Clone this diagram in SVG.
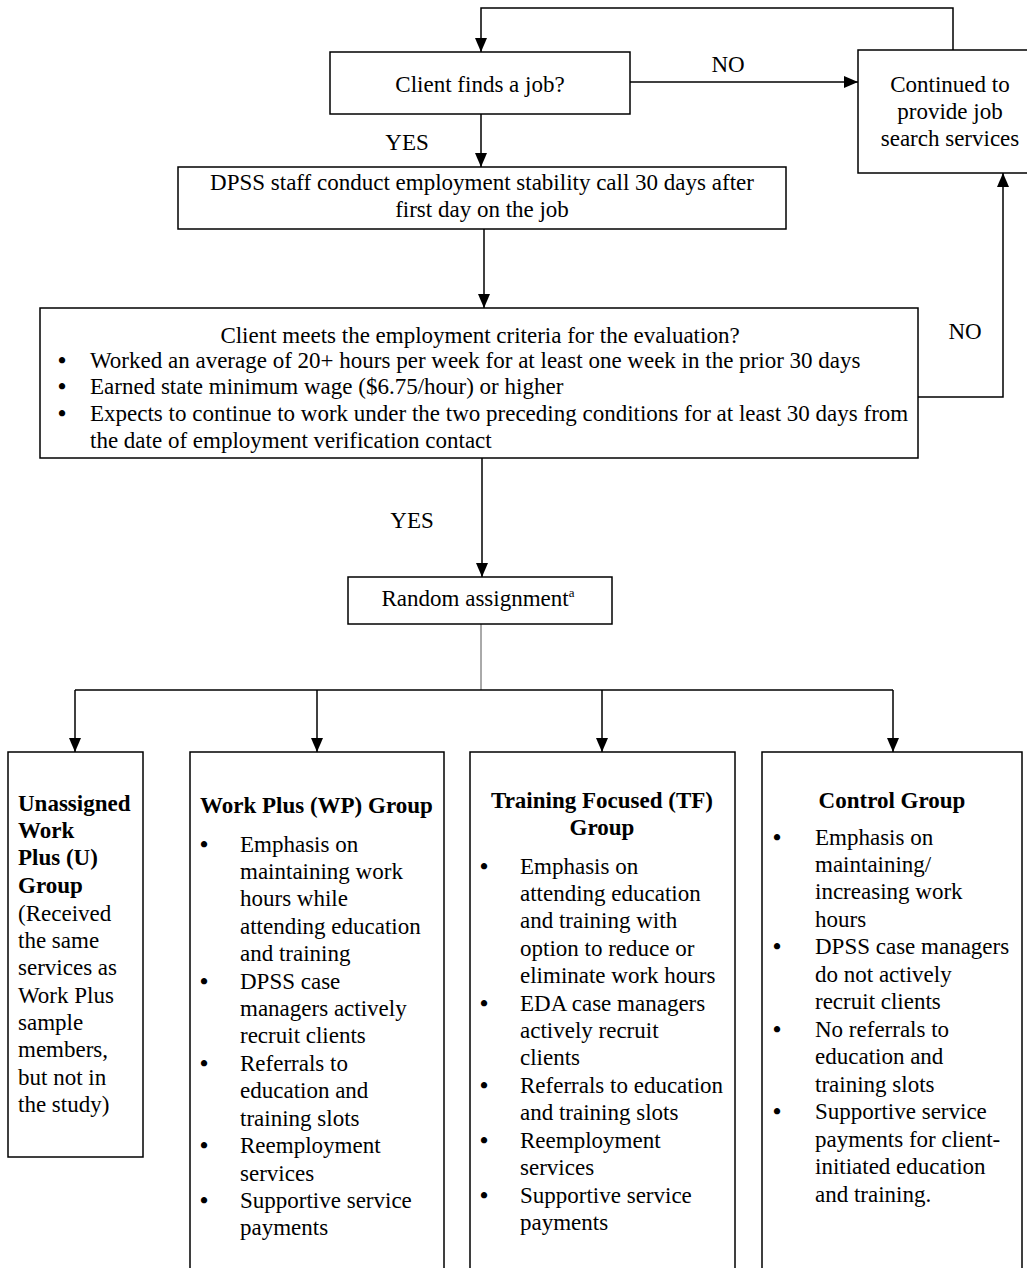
<svg xmlns="http://www.w3.org/2000/svg" width="1027" height="1268" viewBox="0 0 1027 1268">
<style>
  .box{fill:#fff;stroke:#000;stroke-width:1.5}
  .ln{fill:none;stroke:#000;stroke-width:1.5}
  .thin{fill:none;stroke:#555;stroke-width:1}
  text{font-family:"Liberation Serif","Times New Roman",serif;fill:#000;font-size:23px}
  .b{font-weight:bold}
  .c{text-anchor:middle}
  .bu{text-anchor:middle;font-weight:bold}
</style>
<defs>
  <marker id="ah" viewBox="0 0 14 12" refX="14" refY="6" markerWidth="14" markerHeight="12" markerUnits="userSpaceOnUse" orient="auto">
    <path d="M0,0 L14,6 L0,12 z" fill="#000"/>
  </marker>
</defs>

<g id="connectors">
  <polyline class="ln" points="953,50 953,8 481,8 481,52" marker-end="url(#ah)"/>
  <line class="ln" x1="630" y1="82" x2="858" y2="82" marker-end="url(#ah)"/>
  <line class="ln" x1="481" y1="114" x2="481" y2="167" marker-end="url(#ah)"/>
  <line class="ln" x1="484" y1="229" x2="484" y2="308" marker-end="url(#ah)"/>
  <polyline class="ln" points="918,397 1003,397 1003,173" marker-end="url(#ah)"/>
  <line class="ln" x1="482" y1="458" x2="482" y2="577" marker-end="url(#ah)"/>
  <line class="thin" x1="481" y1="624" x2="481" y2="690"/>
  <line class="ln" x1="75" y1="690" x2="893" y2="690"/>
  <line class="ln" x1="75" y1="690" x2="75" y2="752" marker-end="url(#ah)"/>
  <line class="ln" x1="317" y1="690" x2="317" y2="752" marker-end="url(#ah)"/>
  <line class="ln" x1="602" y1="690" x2="602" y2="752" marker-end="url(#ah)"/>
  <line class="ln" x1="893" y1="690" x2="893" y2="752" marker-end="url(#ah)"/>
  <text class="c" x="728" y="72">NO</text>
  <text class="c" x="407" y="150">YES</text>
  <text class="c" x="965" y="339">NO</text>
  <text class="c" x="412" y="528">YES</text>
</g>

<g id="find-job">
  <rect class="box" x="330" y="52" width="300" height="62"/>
  <text class="c" x="480" y="92">Client finds a job?</text>
</g>

<g id="continued">
  <rect class="box" x="858" y="50" width="172" height="123"/>
  <text class="c" x="950" y="92">Continued to</text>
  <text class="c" x="950" y="119">provide job</text>
  <text class="c" x="950" y="146">search services</text>
</g>

<g id="dpss-call">
  <rect class="box" x="178" y="167" width="608" height="62"/>
  <text class="c" x="482" y="190">DPSS staff conduct employment stability call 30 days after</text>
  <text class="c" x="482" y="217">first day on the job</text>
</g>

<g id="criteria">
  <rect class="box" x="40" y="308" width="878" height="150"/>
  <text class="c" x="480" y="343">Client meets the employment criteria for the evaluation?</text>
  <text class="bu" x="62" y="368">•</text>
  <text x="90" y="368">Worked an average of 20+ hours per week for at least one week in the prior 30 days</text>
  <text class="bu" x="62" y="394">•</text>
  <text x="90" y="394">Earned state minimum wage ($6.75/hour) or higher</text>
  <text class="bu" x="62" y="421">•</text>
  <text x="90" y="421">Expects to continue to work under the two preceding conditions for at least 30 days from</text>
  <text x="90" y="448">the date of employment verification contact</text>
</g>

<g id="random">
  <rect class="box" x="348" y="577" width="264" height="47"/>
  <text class="c" x="478" y="606">Random assignment<tspan font-size="13" dy="-9">a</tspan></text>
</g>

<g id="unassigned">
  <rect class="box" x="8" y="752" width="135" height="405"/>
  <text class="b" x="18" y="811">Unassigned</text>
  <text class="b" x="18" y="838">Work</text>
  <text class="b" x="18" y="865">Plus (U)</text>
  <text class="b" x="18" y="893">Group</text>
  <text x="18" y="921">(Received</text>
  <text x="18" y="948">the same</text>
  <text x="18" y="975">services as</text>
  <text x="18" y="1003">Work Plus</text>
  <text x="18" y="1030">sample</text>
  <text x="18" y="1057">members,</text>
  <text x="18" y="1085">but not in</text>
  <text x="18" y="1112">the study)</text>
</g>

<g id="work-plus">
  <rect class="box" x="190" y="752" width="254" height="530"/>
  <text class="b" x="200" y="813">Work Plus (WP) Group</text>
  <text class="bu" x="204" y="852">•</text>
  <text x="240" y="852">Emphasis on</text>
  <text x="240" y="879">maintaining work</text>
  <text x="240" y="906">hours while</text>
  <text x="240" y="934">attending education</text>
  <text x="240" y="961">and training</text>
  <text class="bu" x="204" y="989">•</text>
  <text x="240" y="989">DPSS case</text>
  <text x="240" y="1016">managers actively</text>
  <text x="240" y="1043">recruit clients</text>
  <text class="bu" x="204" y="1071">•</text>
  <text x="240" y="1071">Referrals to</text>
  <text x="240" y="1098">education and</text>
  <text x="240" y="1126">training slots</text>
  <text class="bu" x="204" y="1153">•</text>
  <text x="240" y="1153">Reemployment</text>
  <text x="240" y="1181">services</text>
  <text class="bu" x="204" y="1208">•</text>
  <text x="240" y="1208">Supportive service</text>
  <text x="240" y="1235">payments</text>
</g>

<g id="training-focused">
  <rect class="box" x="470" y="752" width="265" height="530"/>
  <text class="b c" x="602" y="808">Training Focused (TF)</text>
  <text class="b c" x="602" y="835">Group</text>
  <text class="bu" x="484" y="874">•</text>
  <text x="520" y="874">Emphasis on</text>
  <text x="520" y="901">attending education</text>
  <text x="520" y="928">and training with</text>
  <text x="520" y="956">option to reduce or</text>
  <text x="520" y="983">eliminate work hours</text>
  <text class="bu" x="484" y="1011">•</text>
  <text x="520" y="1011">EDA case managers</text>
  <text x="520" y="1038">actively recruit</text>
  <text x="520" y="1065">clients</text>
  <text class="bu" x="484" y="1093">•</text>
  <text x="520" y="1093">Referrals to education</text>
  <text x="520" y="1120">and training slots</text>
  <text class="bu" x="484" y="1148">•</text>
  <text x="520" y="1148">Reemployment</text>
  <text x="520" y="1175">services</text>
  <text class="bu" x="484" y="1203">•</text>
  <text x="520" y="1203">Supportive service</text>
  <text x="520" y="1230">payments</text>
</g>

<g id="control">
  <rect class="box" x="762" y="752" width="260" height="530"/>
  <text class="b c" x="892" y="808">Control Group</text>
  <text class="bu" x="777" y="845">•</text>
  <text x="815" y="845">Emphasis on</text>
  <text x="815" y="872">maintaining/</text>
  <text x="815" y="899">increasing work</text>
  <text x="815" y="927">hours</text>
  <text class="bu" x="777" y="954">•</text>
  <text x="815" y="954">DPSS case managers</text>
  <text x="815" y="982">do not actively</text>
  <text x="815" y="1009">recruit clients</text>
  <text class="bu" x="777" y="1037">•</text>
  <text x="815" y="1037">No referrals to</text>
  <text x="815" y="1064">education and</text>
  <text x="815" y="1092">training slots</text>
  <text class="bu" x="777" y="1119">•</text>
  <text x="815" y="1119">Supportive service</text>
  <text x="815" y="1147">payments for client-</text>
  <text x="815" y="1174">initiated education</text>
  <text x="815" y="1202">and training.</text>
</g>
</svg>
